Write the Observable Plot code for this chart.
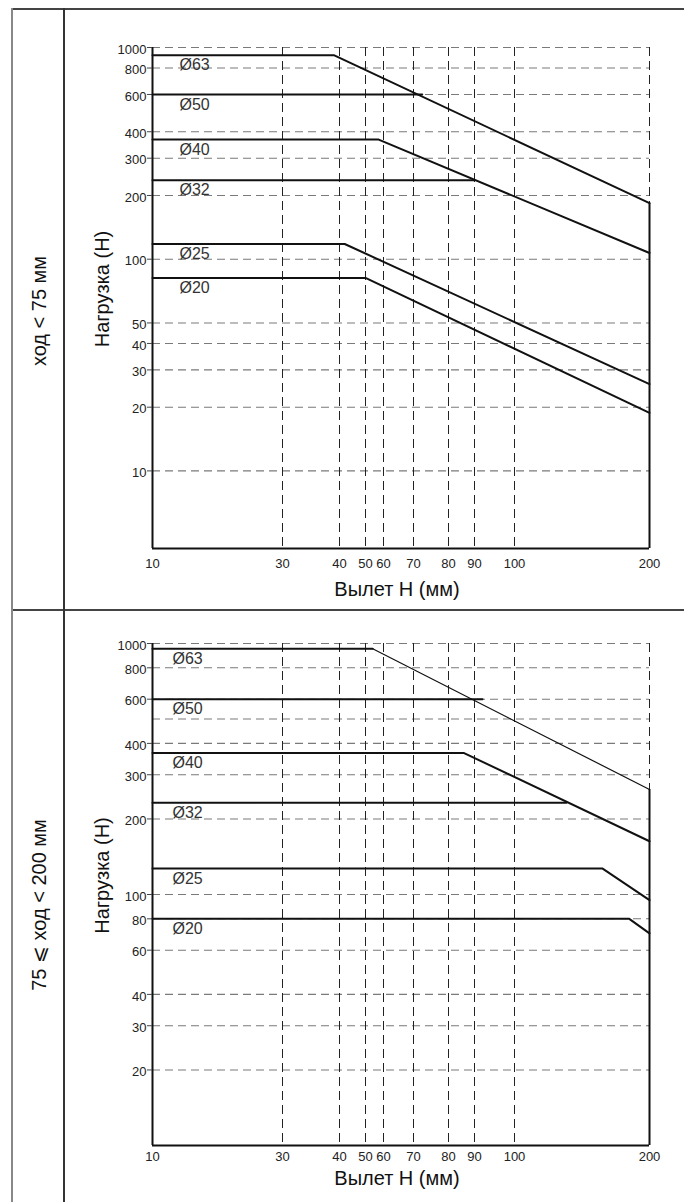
<!DOCTYPE html>
<html>
<head>
<meta charset="utf-8">
<script src="https://cdn.jsdelivr.net/npm/d3@7"></script>
<script src="https://cdn.jsdelivr.net/npm/@observablehq/plot@0.6"></script>
<style>
  body { margin: 0; background: #fff; font-family: "Liberation Sans", Arial, sans-serif; }
  #wrap { position: relative; width: 684px; height: 1202px; overflow: hidden; background: #fff; }
  .line { position: absolute; z-index: 3; }
  .row-label { position: absolute; z-index: 3; font-size: 20px; color: #111; white-space: nowrap;
               transform: translate(-50%, -50%) rotate(-90deg); }
  .chart { position: absolute; left: 0; z-index: 1; }
</style>
</head>
<body>
<div id="wrap"></div>
<script>
// ---------- data ----------
const sizes = ["Ø63", "Ø50", "Ø40", "Ø32", "Ø25", "Ø20"];
const rowTitles = ["ход < 75 мм", "75 ⩽ ход < 200 мм"];
const xLabel = "Вылет Н (мм)";
const yLabel = "Нагрузка (Н)";
const xTicks = [10, 30, 40, 50, 60, 70, 80, 90, 100, 200];

const yTicksShort = [10, 20, 30, 40, 50, 100, 200, 300, 400, 600, 800, 1000];
const yGridShort  = [10, 20, 30, 40, 50, 100, 200, 300, 400, 600, 800, 1000];
const yTicksLong  = [20, 30, 40, 60, 80, 100, 200, 300, 400, 600, 800, 1000];
const yGridLong   = [20, 30, 40, 60, 80, 100, 200, 300, 400, 500, 600, 800, 1000];

// stroke < 75 mm: outreach (mm) and load (N) per bore size
const shortX = [[10, 39, 200], [10, 72.5], [10, 57, 200], [10, 90], [10, 42, 200], [10, 50, 200]];
const shortY = [[920, 920, 184], [600, 600], [368, 368, 107], [236, 236], [118, 118, 25.7], [81.6, 81.6, 18.8]];
// 75 <= stroke < 200 mm
const longX = [[10, 54, 200], [10, 92], [10, 86, 200], [10, 138.5], [10, 165, 200], [10, 185, 200]];
const longY = [[953, 953, 262], [600, 600], [366, 366, 163], [232, 232], [127, 127, 95], [80, 80, 70]];

// ---------- layout / scale config ----------
const xAxisPositions = [152, 282, 339, 365, 383, 413, 448, 474, 514, 649]; // irregular axis of the original drawing
const FONT = "'Liberation Sans', Arial, sans-serif";

function chart(o) {
  const thick = [], thin = [];
  sizes.forEach((s, i) => {
    const pts = o.xs[i].map((x, j) => ({x, y: o.ys[i][j], size: s}));
    if (o.thinSlope && i === 0) {
      thick.push(...pts.slice(0, 2));
      thin.push(...pts.slice(1).map(p => ({...p, size: s + "-slope"})));
    } else thick.push(...pts);
  });
  const labels = sizes.map((s, i) => ({size: s, x: o.xs[i][0], y: o.ys[i][0]}));
  const endY = o.ys[0][o.ys[0].length - 1];
  const yMin = o.yDomain[0];
  const xMin = xTicks[0];
  return Plot.plot({
    width: 684, height: o.height,
    marginLeft: 152, marginRight: 35, marginTop: o.marginTop, marginBottom: o.marginBottom,
    style: {fontFamily: FONT, fontSize: "13px", background: "transparent", color: "#222", overflow: "visible"},
    x: {type: "linear", domain: xTicks, range: xAxisPositions, axis: null},
    y: {type: "log", domain: o.yDomain, axis: null},
    marks: [
      Plot.ruleY(o.yGrid, {stroke: "#7a7a7a", strokeWidth: 1.1, strokeDasharray: "8,5"}),
      Plot.ruleX(xTicks.slice(1), {stroke: "#222", strokeWidth: 1, strokeDasharray: "9,5"}),
      Plot.ruleX([200], {y1: endY, y2: yMin, stroke: "#111", strokeWidth: 2}),
      Plot.ruleX([xMin], {stroke: "#111", strokeWidth: 2}),
      Plot.ruleY([yMin], {stroke: "#111", strokeWidth: 2}),
      // y tick marks and labels
      Plot.ruleY(o.yTicks, {x1: xMin, x2: xMin, insetLeft: -5, stroke: "#444", strokeWidth: 1}),
      Plot.text(o.yTicks, {x: () => xMin, y: d => d, text: d => String(d), textAnchor: "end",
        dx: -6, dy: 2, fontSize: 13, fill: "#222"}),
      // x tick labels
      Plot.text(xTicks, {x: d => d, y: () => yMin, text: d => String(d), textAnchor: "middle",
        lineAnchor: "middle", dy: o.tickDy, fontSize: 13, fill: "#222"}),
      Plot.line(thick, {x: "x", y: "y", z: "size", stroke: "#111", strokeWidth: 2}),
      Plot.line(thin, {x: "x", y: "y", z: "size", stroke: "#111", strokeWidth: 1.2}),
      Plot.text(labels, {x: "x", y: "y", text: "size", textAnchor: "start", dx: o.labelDx, dy: 10,
        fontSize: 16, fill: "#333"}),
      Plot.text([xLabel], {frameAnchor: "bottom", lineAnchor: "middle", textAnchor: "middle",
        dy: o.xLabelDy, dx: -4, fontSize: 20, fill: "#111"}),
      Plot.text([yLabel], {frameAnchor: "left", lineAnchor: "middle", textAnchor: "middle", rotate: -90,
        dx: -50, dy: o.yLabelDy, fontSize: 20, fill: "#111"})
    ]
  });
}

const wrap = document.getElementById("wrap");
const c1 = chart({xs: shortX, ys: shortY, yDomain: [4.3, 1000], yTicks: yTicksShort, yGrid: yGridShort,
  height: 607, marginTop: 47, marginBottom: 59, tickDy: 15, xLabelDy: 41, yLabelDy: -9, labelDx: 27});
c1.classList.add("chart"); c1.style.top = "0px";
wrap.appendChild(c1);
const c2 = chart({xs: longX, ys: longY, yDomain: [10, 1000], yTicks: yTicksLong, yGrid: yGridLong,
  height: 592, marginTop: 33, marginBottom: 57, tickDy: 11, xLabelDy: 33, yLabelDy: -19, labelDx: 20, thinSlope: true});
c2.classList.add("chart"); c2.style.top = "610px";
wrap.appendChild(c2);

// table frame
function line(l, t, w, h, c) {
  const d = document.createElement("div");
  d.className = "line";
  Object.assign(d.style, {left: l + "px", top: t + "px", width: w + "px", height: h + "px", background: c});
  wrap.appendChild(d);
}
line(11, 8, 673, 1.5, "#444");
line(11, 609, 673, 1.5, "#444");
line(11, 8, 1.5, 1194, "#888");
line(63, 8, 1.5, 1194, "#333");

[[39, 311], [39, 905]].forEach(([x, y], i) => {
  const d = document.createElement("div");
  d.className = "row-label";
  d.textContent = rowTitles[i];
  d.style.left = x + "px"; d.style.top = y + "px";
  wrap.appendChild(d);
});
</script>
</body>
</html>
